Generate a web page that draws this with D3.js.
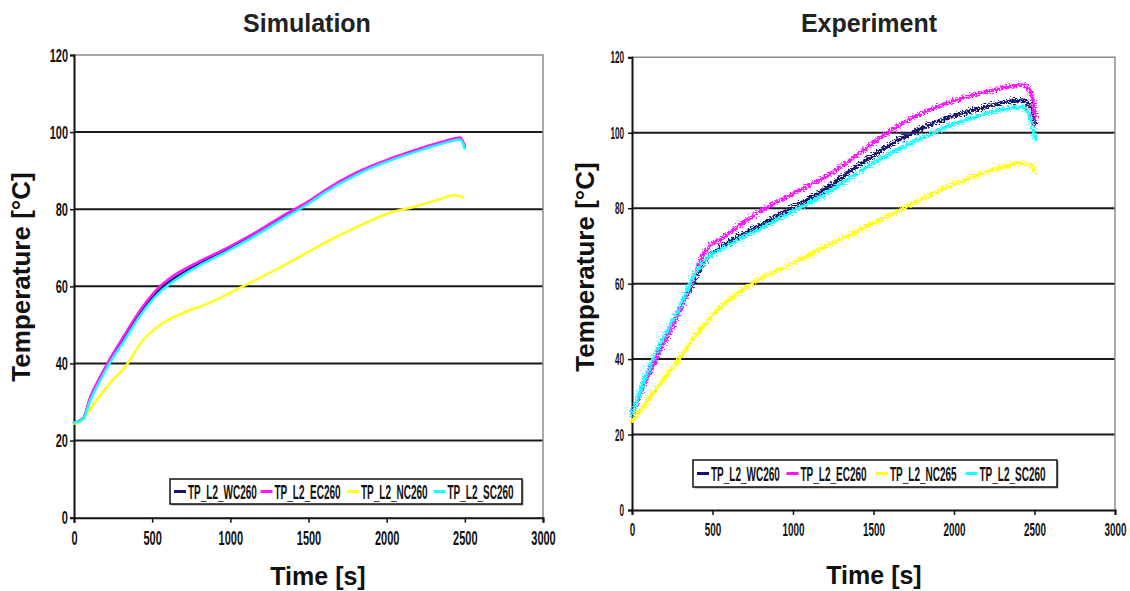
<!DOCTYPE html>
<html>
<head>
<meta charset="utf-8">
<script src="https://cdn.jsdelivr.net/npm/d3@7/dist/d3.min.js"></script>
<style>
  html, body { margin: 0; padding: 0; background: #fff; }
  svg { display: block; }
</style>
</head>
<body>
<svg id="chart" width="1130" height="591"></svg>
<script>
// ---- Data ----------------------------------------------------------------
const seriesNames = ["TP_L2_WC260", "TP_L2_EC260", "TP_L2_NC260", "TP_L2_SC260"];
const seriesNamesExp = ["TP_L2_WC260", "TP_L2_EC260", "TP_L2_NC265", "TP_L2_SC260"];
const seriesColors = ["#14146e", "#ff14ff", "#ffff14", "#14ffff"];

const xTicks = [0, 500, 1000, 1500, 2000, 2500, 3000];
const yTicks = [0, 20, 40, 60, 80, 100, 120];

// Simulation: time [s] and temperature [°C]
const simTime = [0, 60, 100, 160, 220, 320, 430, 550, 620, 780, 980, 1170, 1360, 1510, 1600, 1810, 2020, 2240, 2390, 2470, 2500];
const simWC = [24.6, 25.8, 30.5, 35.5, 40.0, 46.5, 53.5, 59.3, 61.5, 65.4, 69.5, 73.8, 78.5, 82.0, 84.5, 89.3, 92.8, 95.8, 97.6, 98.3, 96.0];
const simEC = [24.6, 25.8, 30.8, 36.0, 40.5, 47.2, 54.2, 60.0, 62.3, 66.0, 70.0, 74.2, 78.9, 82.3, 84.8, 89.6, 93.1, 96.1, 97.9, 98.6, 96.5];
const simSC = [24.6, 25.6, 30.0, 35.0, 39.5, 45.8, 52.8, 58.5, 60.8, 64.9, 69.1, 73.4, 78.1, 81.7, 84.2, 89.0, 92.6, 95.6, 97.4, 98.1, 95.8];
const simNCTime = [0, 60, 100, 230, 340, 440, 550, 680, 870, 1080, 1300, 1510, 1600, 1810, 2020, 2170, 2340, 2430, 2490];
const simNC = [24.4, 25.6, 28.0, 34.9, 39.8, 46.0, 50.0, 52.8, 55.8, 60.0, 64.5, 69.2, 71.2, 75.4, 79.1, 80.6, 82.6, 83.6, 83.0];

// Experiment: time [s] and temperature [°C]
const expTime = [0, 80, 150, 250, 330, 390, 450, 580, 790, 990, 1200, 1380, 1560, 1770, 1980, 2190, 2330, 2430, 2480, 2505];
const expWC = [25.5, 33.8, 40.4, 48.8, 55.9, 61.2, 65.7, 70.5, 75.4, 80.0, 85.1, 90.6, 95.7, 100.6, 104.2, 106.8, 108.2, 108.6, 106.4, 102.4];
const expEC = [25.5, 33.5, 40.2, 48.6, 56.0, 62.5, 68.3, 72.6, 79.0, 83.6, 88.3, 93.5, 99.3, 104.6, 108.2, 110.8, 112.1, 112.6, 110.4, 103.7];
const expSC = [25.5, 35.0, 41.8, 50.0, 57.0, 62.5, 66.0, 69.8, 74.5, 79.0, 83.8, 88.7, 93.5, 98.0, 101.9, 105.0, 106.4, 106.8, 102.8, 98.4];
const expNCTime = [0, 160, 290, 410, 540, 725, 990, 1200, 1450, 1690, 1900, 2100, 2300, 2420, 2470, 2505];
const expNC = [23.5, 32.6, 40.0, 47.0, 53.4, 59.5, 65.3, 69.8, 75.0, 80.0, 84.5, 88.0, 90.8, 91.9, 91.5, 89.6];

// ---- Drawing ---------------------------------------------------------------
const svg = d3.select("#chart");
const FONT = "'Liberation Sans', Arial, sans-serif";

// jagged look of the measured (noisy) thermocouple traces
const defs = svg.append("defs");
const rough = defs.append("filter").attr("id", "noisy")
  .attr("x", "-5%").attr("y", "-10%").attr("width", "110%").attr("height", "120%");
rough.append("feTurbulence").attr("type", "fractalNoise").attr("baseFrequency", "0.5 0.9")
  .attr("numOctaves", 2).attr("seed", 3).attr("result", "n");
rough.append("feDisplacementMap").attr("in", "SourceGraphic").attr("in2", "n")
  .attr("scale", 9).attr("xChannelSelector", "R").attr("yChannelSelector", "G");

function zip(ts, vs) { return ts.map((t, i) => ({ t, v: vs[i] })); }

function panel(opts) {
  const x = d3.scaleLinear().domain([0, 3000]).range([opts.x0, opts.x1]);
  const y = d3.scaleLinear().domain([0, 120]).range([opts.y0, opts.y1]);
  const g = svg.append("g");

  // horizontal gridlines
  g.append("g").selectAll("line")
    .data(yTicks.filter(d => d > 0 && d < 120))
    .join("line")
    .attr("x1", x(0)).attr("x2", x(3000))
    .attr("y1", d => y(d)).attr("y2", d => y(d))
    .attr("stroke", "#1a1a1a").attr("stroke-width", 2);

  // plot-area frame (top and right)
  g.append("path")
    .attr("d", `M${x(0)},${y(120)}H${x(3000)}V${y(0)}`)
    .attr("fill", "none").attr("stroke", "#8c8c8c").attr("stroke-width", 1.5);

  // axes
  const xa = g.append("g").attr("transform", `translate(0,${y(0)})`)
    .call(d3.axisBottom(x).tickValues(xTicks).tickSize(5).tickPadding(opts.xPad).tickFormat(d3.format("d")));
  const ya = g.append("g").attr("transform", `translate(${x(0)},0)`)
    .call(d3.axisLeft(y).tickValues(yTicks).tickSize(4).tickPadding(opts.yPad).tickFormat(d3.format("d")));
  [xa, ya].forEach(a => {
    a.attr("font-size", null);
    a.select(".domain").attr("stroke", "#111").attr("stroke-width", 2);
    a.selectAll(".tick line").attr("stroke", "#111").attr("stroke-width", 1.5);
  });
  // narrow, tall digits: squeeze horizontally around the tick anchor
  xa.selectAll(".tick text")
    .attr("font-family", FONT).attr("font-weight", "bold").attr("fill", "#111")
    .style("font-size", opts.xFont + "px")
    .attr("transform", `scale(${opts.xSqueeze},1)`);
  ya.selectAll(".tick text")
    .attr("font-family", FONT).attr("font-weight", "bold").attr("fill", "#111")
    .style("font-size", opts.yFont + "px")
    .attr("x", -(4 + opts.yPad) / opts.ySqueeze)
    .attr("transform", `scale(${opts.ySqueeze},1)`);

  // data lines (series order WC, EC, NC, SC: the last one sits on top)
  const line = d3.line().x(d => x(d.t)).y(d => y(d.v)).curve(d3.curveMonotoneX);
  const lines = g.append("g");
  if (opts.noisy) lines.attr("filter", "url(#noisy)");
  opts.series.forEach((s, i) => {
    lines.append("path")
      .datum(s)
      .attr("d", line)
      .attr("fill", "none")
      .attr("stroke", seriesColors[i])
      .attr("stroke-width", opts.lineW)
      .attr("stroke-linejoin", "round")
      .attr("stroke-linecap", "round");
  });

  // legend
  const lg = g.append("g");
  const [lx0, lx1, ly0, ly1] = opts.legend;
  lg.append("rect").attr("x", lx0 + 1.5).attr("y", ly0 + 1.5).attr("width", lx1 - lx0).attr("height", ly1 - ly0)
    .attr("fill", "#999");
  lg.append("rect").attr("x", lx0).attr("y", ly0).attr("width", lx1 - lx0).attr("height", ly1 - ly0)
    .attr("fill", "#fff").attr("stroke", "#111").attr("stroke-width", 1.5);
  const slot = (lx1 - lx0 - 6) / opts.names.length;
  const ly = (ly0 + ly1) / 2;
  opts.names.forEach((name, i) => {
    const sx = lx0 + 4 + i * slot;
    lg.append("line").attr("x1", sx).attr("x2", sx + 12).attr("y1", ly).attr("y2", ly)
      .attr("stroke", seriesColors[i]).attr("stroke-width", 3);
    lg.append("text")
      .attr("transform", `translate(${sx + 14},${ly + 7}) scale(0.5,1)`)
      .attr("font-family", FONT).attr("font-weight", "bold").attr("fill", "#111")
      .style("font-size", "20px")
      .text(name);
  });

  // titles
  g.append("text").attr("x", opts.titleX).attr("y", 32).attr("text-anchor", "middle")
    .attr("font-family", FONT).attr("font-weight", "bold").attr("font-size", 25).attr("fill", "#222")
    .text(opts.title);
  g.append("text").attr("x", opts.xTitleX).attr("y", opts.xTitleY).attr("text-anchor", "middle")
    .attr("font-family", FONT).attr("font-weight", "bold").attr("font-size", 25).attr("fill", "#111")
    .text("Time [s]");
  g.append("text")
    .attr("transform", `translate(${opts.yTitleX},${opts.yTitleY}) rotate(-90)`)
    .attr("text-anchor", "middle")
    .attr("font-family", FONT).attr("font-weight", "bold").attr("font-size", 26).attr("fill", "#111")
    .text("Temperature [°C]");
}

panel({
  title: "Simulation", titleX: 307,
  x0: 74, x1: 543, y0: 517.7, y1: 55,
  xPad: 8, yPad: 2, xFont: 20, xSqueeze: 0.55, yFont: 19, ySqueeze: 0.58,
  xTitleX: 318, xTitleY: 585, yTitleX: 30, yTitleY: 277,
  lineW: 2.5, noisy: false,
  legend: [170, 522, 479, 504],
  names: seriesNames,
  series: [zip(simTime, simWC), zip(simTime, simEC), zip(simNCTime, simNC), zip(simTime, simSC)]
});

panel({
  title: "Experiment", titleX: 869,
  x0: 632, x1: 1115, y0: 510, y1: 57.3,
  xPad: 8, yPad: 4, xFont: 19, xSqueeze: 0.52, yFont: 17, ySqueeze: 0.48,
  xTitleX: 874, xTitleY: 584, yTitleX: 594, yTitleY: 267,
  lineW: 3.8, noisy: true,
  legend: [693, 1057, 460, 487],
  names: seriesNamesExp,
  series: [zip(expTime, expWC), zip(expTime, expEC), zip(expNCTime, expNC), zip(expTime, expSC)]
});
</script>
</body>
</html>
